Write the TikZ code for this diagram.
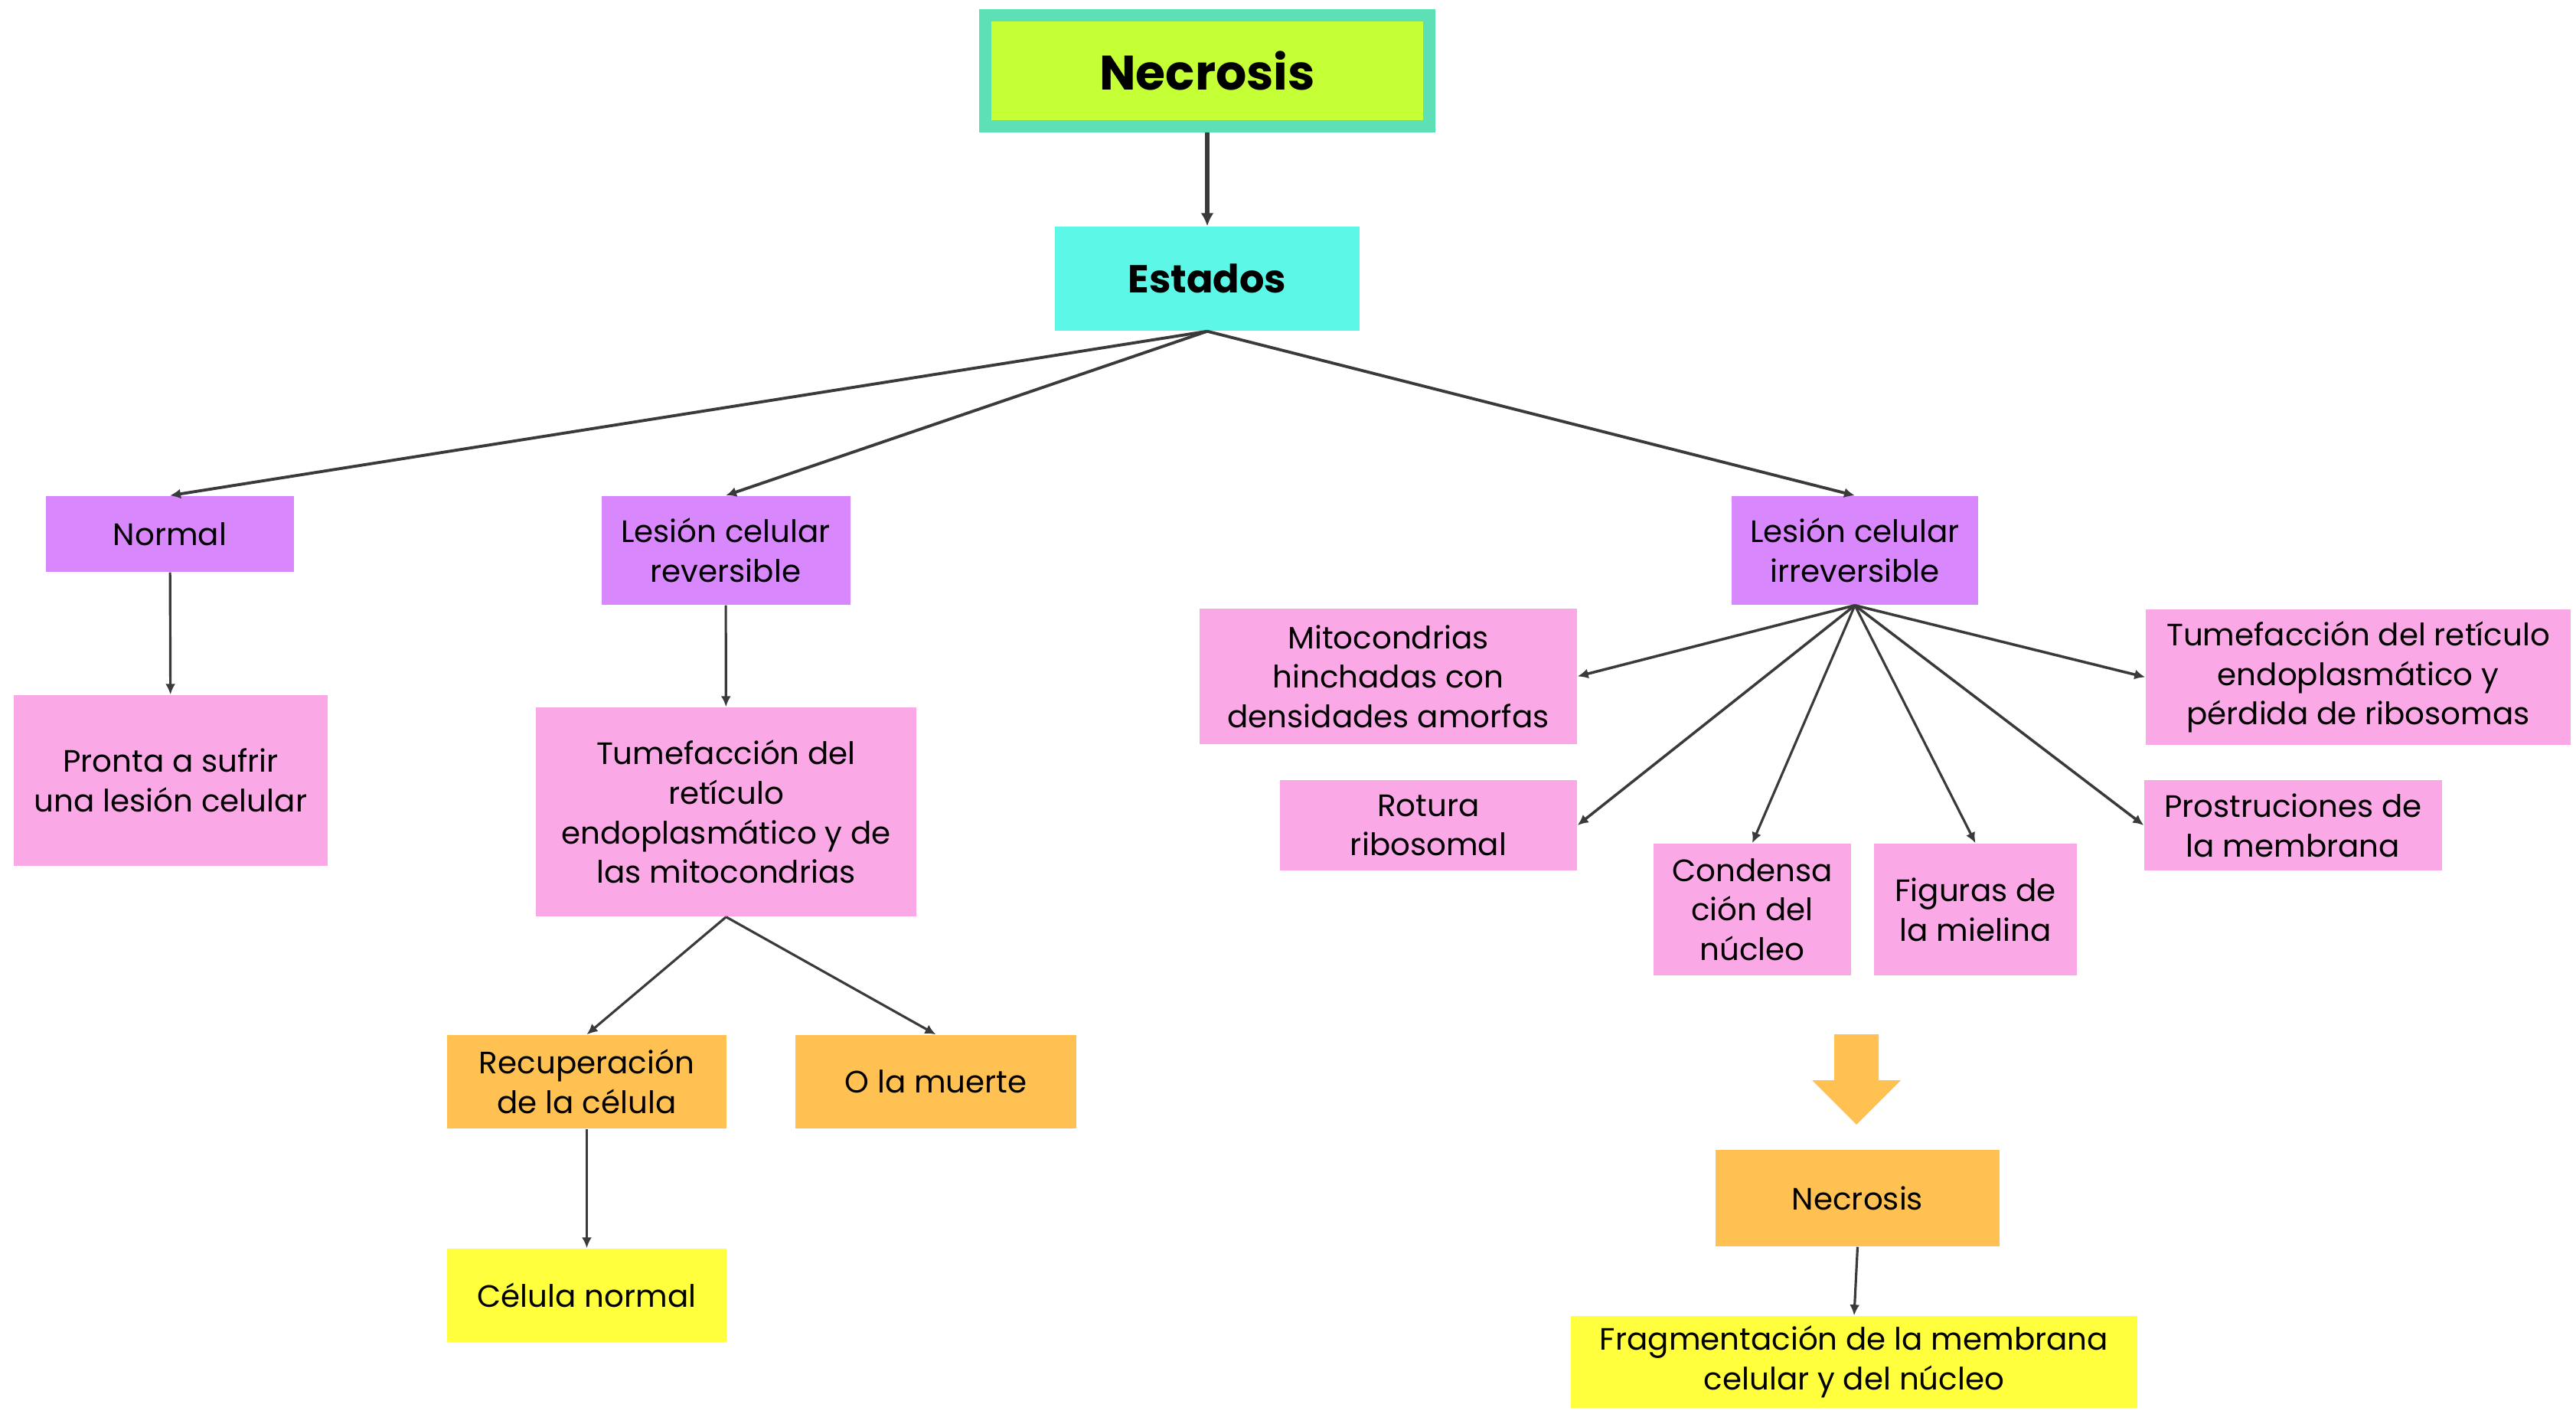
\documentclass[tikz,border=0pt]{standalone}
\usepackage{fontspec}
\setmainfont{Poppins}
\usetikzlibrary{arrows.meta}

\definecolor{lima}{HTML}{C5FF36}
\definecolor{menta}{HTML}{5EE0B6}
\definecolor{cian}{HTML}{5CF7E6}
\definecolor{violeta}{HTML}{D987FC}
\definecolor{rosa}{HTML}{FBA9E6}
\definecolor{naranja}{HTML}{FFC152}
\definecolor{amarillo}{HTML}{FFFF3E}
\definecolor{gris}{HTML}{3A3A3A}

\begin{document}
\begin{tikzpicture}[
    caja/.style={inner sep=0pt, align=center, font=\fontsize{11.5}{14.7}\selectfont},
    flecha/.style={draw=gris, line width=0.9pt, -{Latex[length=1.4mm,width=1.3mm]}}
  ]
    \useasboundingbox (0,0) rectangle (33.65,-18.47);

    \node[caja, fill=lima, draw=menta, line width=1.6mm, minimum width=5.80cm, minimum height=1.45cm,
      font=\fontsize{18}{20}\selectfont\bfseries] (necrosis) at (15.77,-0.925) {Necrosis};
    \node[caja, fill=cian, minimum width=3.98cm, minimum height=1.36cm,
      font=\fontsize{14.5}{17}\selectfont\bfseries] (estados) at (15.77,-3.64) {Estados};

    \node[caja, fill=violeta, minimum width=3.24cm, minimum height=0.99cm] (normal) at (2.22,-6.975) {Normal};
    \node[caja, fill=violeta, minimum width=3.25cm, minimum height=1.42cm] (reversible) at (9.48,-7.19) {Lesión celular\\reversible};
    \node[caja, fill=violeta, minimum width=3.22cm, minimum height=1.42cm] (irreversible) at (24.23,-7.19) {Lesión celular\\irreversible};

    \node[caja, fill=rosa, minimum width=4.10cm, minimum height=2.23cm] (pronta) at (2.23,-10.195) {Pronta a sufrir\\una lesión celular};
    \node[caja, fill=rosa, minimum width=4.97cm, minimum height=2.73cm] (tumefaccion) at (9.485,-10.605) {Tumefacción del\\retículo\\endoplasmático y de\\las mitocondrias};
    \node[caja, fill=naranja, minimum width=3.65cm, minimum height=1.22cm] (recuperacion) at (7.665,-14.13) {Recuperación\\de la célula};
    \node[caja, fill=naranja, minimum width=3.67cm, minimum height=1.22cm] (muerte) at (12.225,-14.13) {O la muerte};
    \node[caja, fill=amarillo, minimum width=3.65cm, minimum height=1.22cm] (celula) at (7.665,-16.92) {Célula normal};

    \node[caja, fill=rosa, minimum width=4.93cm, minimum height=1.77cm] (mitocondrias) at (18.135,-8.835) {Mitocondrias\\hinchadas con\\densidades amorfas};
    \node[caja, fill=rosa, minimum width=5.55cm, minimum height=1.77cm] (reticulo) at (30.805,-8.845) {Tumefacción del retículo\\endoplasmático y\\pérdida de ribosomas};
    \node[caja, fill=rosa, minimum width=3.88cm, minimum height=1.18cm] (rotura) at (18.66,-10.78) {Rotura\\ribosomal};
    \node[caja, fill=rosa, minimum width=3.89cm, minimum height=1.18cm] (prostruciones) at (29.955,-10.78) {Prostruciones de\\la membrana};
    \node[caja, fill=rosa, minimum width=2.58cm, minimum height=1.72cm] (condensa) at (22.89,-11.88) {Condensa\\ción del\\núcleo};
    \node[caja, fill=rosa, minimum width=2.65cm, minimum height=1.72cm] (figuras) at (25.805,-11.88) {Figuras de\\la mielina};

    % flecha gruesa
    \fill[naranja] (23.96,-13.51) -- (24.54,-13.51) -- (24.54,-14.11) -- (24.83,-14.11)
      -- (24.25,-14.69) -- (23.67,-14.11) -- (23.96,-14.11) -- cycle;

    \node[caja, fill=naranja, minimum width=3.71cm, minimum height=1.26cm] (necrosisfin) at (24.265,-15.65) {Necrosis};
    \node[caja, fill=amarillo, minimum width=7.40cm, minimum height=1.20cm] (fragmentacion) at (24.22,-17.79) {Fragmentación de la membrana\\celular y del núcleo};

    \draw[flecha, line width=1.5pt, -{Latex[length=1.7mm,width=1.7mm]}] (necrosis) -- (estados);
    \draw[flecha, line width=1.1pt] (estados.south) -- (normal.north);
    \draw[flecha, line width=1.1pt] (estados.south) -- (reversible.north);
    \draw[flecha, line width=1.1pt] (estados.south) -- (irreversible.north);
    \draw[flecha] (normal) -- (pronta);
    \draw[flecha] (reversible) -- (tumefaccion);
    \draw[flecha] (tumefaccion.south) -- (recuperacion.north);
    \draw[flecha] (tumefaccion.south) -- (muerte.north);
    \draw[flecha] (recuperacion) -- (celula);
    \draw[flecha, line width=1pt] (irreversible.south) -- (mitocondrias.east);
    \draw[flecha, line width=1pt] (irreversible.south) -- (reticulo.west);
    \draw[flecha, line width=1pt] (irreversible.south) -- (rotura.east);
    \draw[flecha, line width=1pt] (irreversible.south) -- (prostruciones.west);
    \draw[flecha] (irreversible.south) -- (condensa.north);
    \draw[flecha] (irreversible.south) -- (figuras.north);
    \draw[flecha] (necrosisfin.south) -- (fragmentacion.north);
  \end{tikzpicture}
\end{document}
